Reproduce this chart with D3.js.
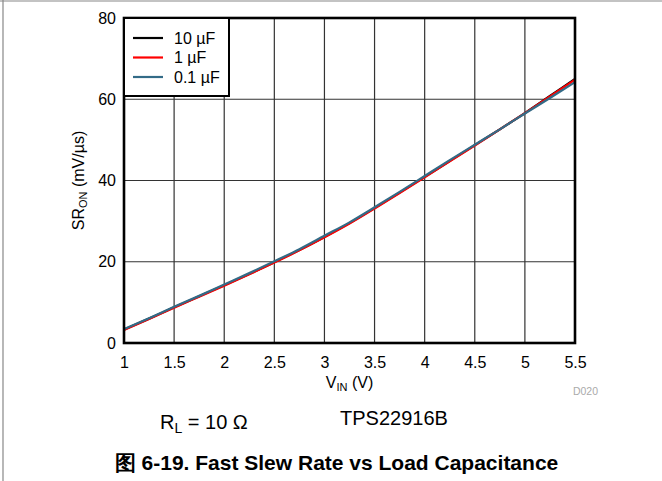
<!DOCTYPE html>
<html><head><meta charset="utf-8">
<script src="https://cdn.jsdelivr.net/npm/d3@7"></script>
<style>html,body{margin:0;padding:0;background:#fff;}svg{display:block;font-family:Arial,"Liberation Sans",Helvetica,sans-serif;}</style>
</head><body>
<svg id="c" width="662" height="481"></svg>
<script>
const vin = [1.0,1.25,1.5,1.75,2.0,2.25,2.5,2.75,3.0,3.25,3.5,3.75,4.0,4.25,4.5,4.75,5.0,5.25,5.5];
const sr10uF  = [3.3,6.0,8.8,11.5,14.2,17.0,19.9,22.9,26.1,29.5,33.2,37.0,40.9,44.8,48.7,52.6,56.6,60.8,65.0];
const sr1uF   = [3.2,5.9,8.7,11.4,14.1,16.9,19.8,22.8,26.0,29.4,33.1,36.9,40.8,44.7,48.6,52.6,56.6,60.7,64.8];
const sr01uF  = [3.4,6.1,8.9,11.6,14.4,17.2,20.1,23.1,26.4,29.7,33.4,37.2,41.1,45.0,48.8,52.6,56.5,60.3,64.2];
const seriesNames = ["10 µF","1 µF","0.1 µF"];
const seriesColors = ["#000000","#ff0000","#336b87"];
const xTicks = [1,1.5,2,2.5,3,3.5,4,4.5,5,5.5];
const yTicks = [0,20,40,60,80];

const svg = d3.select("#c");
const L=124, R=575, T=18, B=343;
const x = d3.scaleLinear().domain([1,5.5]).range([L,R]);
const y = d3.scaleLinear().domain([0,80]).range([B,T]);

// outer figure border (left and top)
svg.append("line").attr("x1",3).attr("x2",3).attr("y1",0).attr("y2",481).attr("stroke","#888").attr("stroke-width",1.2);
svg.append("line").attr("x1",0).attr("x2",662).attr("y1",1).attr("y2",1).attr("stroke","#888").attr("stroke-width",1.2);

// grid
const g = svg.append("g");
g.selectAll(".vg").data(xTicks.slice(1,-1)).join("line")
  .attr("x1",d=>x(d)).attr("x2",d=>x(d)).attr("y1",T).attr("y2",B)
  .attr("stroke","#333").attr("stroke-width",1.2);
g.selectAll(".hg").data(yTicks.slice(1,-1)).join("line")
  .attr("x1",L).attr("x2",R).attr("y1",d=>y(d)).attr("y2",d=>y(d))
  .attr("stroke","#333").attr("stroke-width",1.2);

// axes labels via d3 axes
const xAxis = svg.append("g").attr("transform",`translate(0,${B})`)
  .call(d3.axisBottom(x).tickValues(xTicks).tickSize(0).tickPadding(14).tickFormat(d3.format("")));
const yAxis = svg.append("g").attr("transform",`translate(${L},0)`)
  .call(d3.axisLeft(y).tickValues(yTicks).tickSize(0).tickPadding(8));
[xAxis,yAxis].forEach(a=>{a.select(".domain").remove();
  a.selectAll("text").attr("font-size",16).attr("font-family","Arial, 'Liberation Sans', sans-serif").attr("fill","#000");});

// lines
const line = d3.line().x((d,i)=>x(vin[i])).y(d=>y(d)).curve(d3.curveMonotoneX);
[sr10uF,sr1uF,sr01uF].forEach((s,k)=>{
  svg.append("path").datum(s).attr("d",line).attr("fill","none")
    .attr("stroke",seriesColors[k]).attr("stroke-width",2.2);
});

// frame
svg.append("rect").attr("x",L).attr("y",T).attr("width",R-L).attr("height",B-T)
  .attr("fill","none").attr("stroke","#000").attr("stroke-width",2.6);

// legend
const lg = svg.append("g");
lg.append("rect").attr("x",L).attr("y",T).attr("width",105).attr("height",78)
  .attr("fill","#fff").attr("stroke","#000").attr("stroke-width",2);
seriesNames.forEach((n,i)=>{
  const yy = 38 + i*19.5;
  lg.append("line").attr("x1",133).attr("x2",163).attr("y1",yy).attr("y2",yy)
    .attr("stroke",seriesColors[i]).attr("stroke-width",2.2);
  lg.append("text").attr("x",174).attr("y",yy).attr("dy","0.36em").attr("font-size",16).text(n);
});

// axis titles
const xt = svg.append("text").attr("x",(L+R)/2).attr("y",388).attr("text-anchor","middle").attr("font-size",16);
xt.append("tspan").text("V");
xt.append("tspan").attr("font-size",11).attr("dy",3).text("IN");
xt.append("tspan").attr("dy",-3).text(" (V)");

const yt = svg.append("text").attr("transform",`translate(84,${(T+B)/2}) rotate(-90)`)
  .attr("text-anchor","middle").attr("font-size",16);
yt.append("tspan").text("SR");
yt.append("tspan").attr("font-size",11).attr("dy",3).text("ON");
yt.append("tspan").attr("dy",-3).text(" (mV/µs)");

svg.append("text").attr("x",598).attr("y",395).attr("text-anchor","end").attr("font-size",10.5).attr("fill","#aaa").text("D020");

// annotations
const rl = svg.append("text").attr("x",160).attr("y",429).attr("font-size",20);
rl.append("tspan").text("R");
rl.append("tspan").attr("font-size",14).attr("dy",4).text("L");
rl.append("tspan").attr("dy",-4).text(" = 10 Ω");
svg.append("text").attr("x",340).attr("y",425).attr("font-size",20).text("TPS22916B");

svg.append("text").attr("x",336.5).attr("y",470).attr("text-anchor","middle")
  .attr("font-size",21).attr("font-weight","bold").text("图 6-19. Fast Slew Rate vs Load Capacitance");
</script>
</body></html>
